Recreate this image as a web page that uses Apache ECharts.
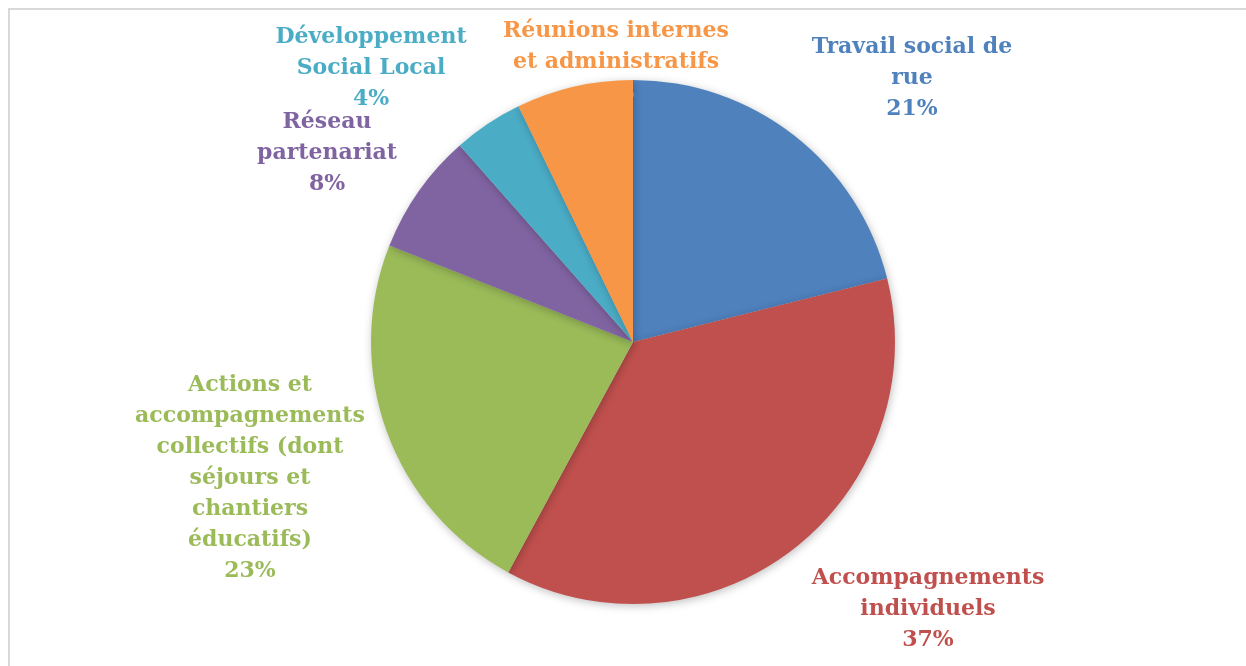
<!DOCTYPE html>
<html>
<head>
<meta charset="utf-8">
<script src="https://cdn.jsdelivr.net/npm/echarts@6/dist/echarts.min.js"></script>
<style>
html,body{margin:0;padding:0;background:#fff;}
#chart{width:1246px;height:666px;}
</style>
</head>
<body>
<div id="chart"></div>
<script>
const categories = [
  'Travail social de\nrue',
  'Accompagnements\nindividuels',
  'Actions et\naccompagnements\ncollectifs (dont\nséjours et\nchantiers\néducatifs)',
  'Réseau\npartenariat',
  'Développement\nSocial Local',
  'Réunions internes\net administratifs'
];
const values = [21.1, 36.8, 23.1, 7.5, 4.3, 7.2];
const colors = ['#4F81BD', '#C0504D', '#9BBB59', '#8064A2', '#4BACC6', '#F79646'];
// label block centres (layout only)
const labelPos = [[912, 78], [928, 609], [250, 478], [327, 153], [371, 68], [616, 62]];

const chart = echarts.init(document.getElementById('chart'));
chart.setOption({
  backgroundColor: '#fff',
  animation: false,
  graphic: [{
    type: 'rect', z: -1,
    shape: {x: 9, y: 9, width: 1300, height: 700},
    style: {fill: 'none', stroke: '#d9d9d9', lineWidth: 2}
  }],
  series: [{
    type: 'pie',
    center: [633, 342],
    radius: 262,
    startAngle: 90,
    clockwise: true,
    data: categories.map((c, i) => ({
      name: c, value: values[i],
      itemStyle: {color: colors[i]},
      label: {color: colors[i]}
    })),
    itemStyle: {
      borderWidth: 0,
      shadowBlur: 8,
      shadowColor: 'rgba(0,0,0,0.25)',
      shadowOffsetX: 1,
      shadowOffsetY: 2
    },
    label: {
      show: true,
      position: 'outside',
      formatter: p => p.name + '\n' + Math.round(p.percent) + '%',
      fontFamily: 'DejaVu Serif',
      fontWeight: 'bold',
      fontSize: 22,
      lineHeight: 31,
      align: 'center'
    },
    labelLine: {show: false},
    labelLayout: p => ({
      x: labelPos[p.dataIndex][0],
      y: labelPos[p.dataIndex][1],
      align: 'center',
      verticalAlign: 'middle'
    })
  }]
});
</script>
</body>
</html>
